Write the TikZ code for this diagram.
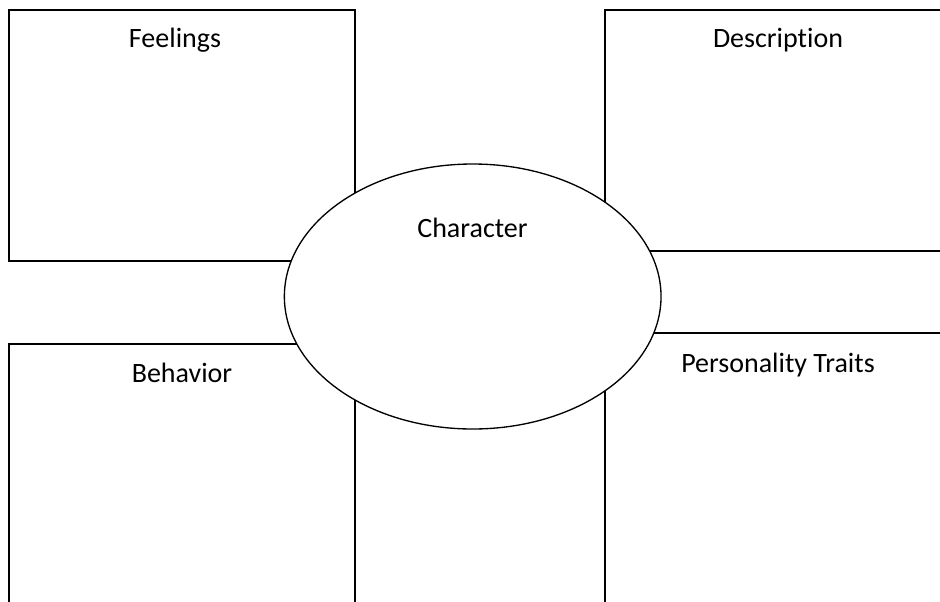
\documentclass[tikz,border=0pt]{standalone}
\usepackage{fontspec}
\setmainfont[Ligatures=NoCommon]{Carlito}
\usetikzlibrary{shapes.geometric}
\begin{document}
\begin{tikzpicture}[x=0.75pt,y=-0.75pt,
  panel/.style={draw=black,line width=1.5pt},
  hub/.style={ellipse,draw=black,fill=white,line width=1pt,inner sep=0pt,
    minimum width=282.5pt,minimum height=198.75pt},
  label/.style={font=\fontsize{21}{25}\selectfont,anchor=base,inner sep=0pt}]
  \useasboundingbox (0,0) rectangle (940,601);
  \clip (0,0) rectangle (940,601);
  % four writing panels, the right and lower ones running past the page edge
  \draw[panel] (8.5,9.5) rectangle (354.5,261);
  \draw[panel] (604.5,10) rectangle (960,251);
  \draw[panel] (8.5,344) rectangle (354.5,640);
  \draw[panel] (604.5,333) rectangle (960,640);
  % central oval sits on top of the panel corners
  \node[hub] (hub) at (472.7,296.5) {};
  % headings
  \node[label] (feel) at (175,47) {Feelings};
  \node[label] (desc) at (778,47) {Description};
  \node[label] (beh) at (182,382.3) {Behavior};
  \node[label] (pers) at (778,372.3) {Personality Traits};
  \node[label] (char) at (472.5,237.3) {Character};
\end{tikzpicture}
\end{document}
